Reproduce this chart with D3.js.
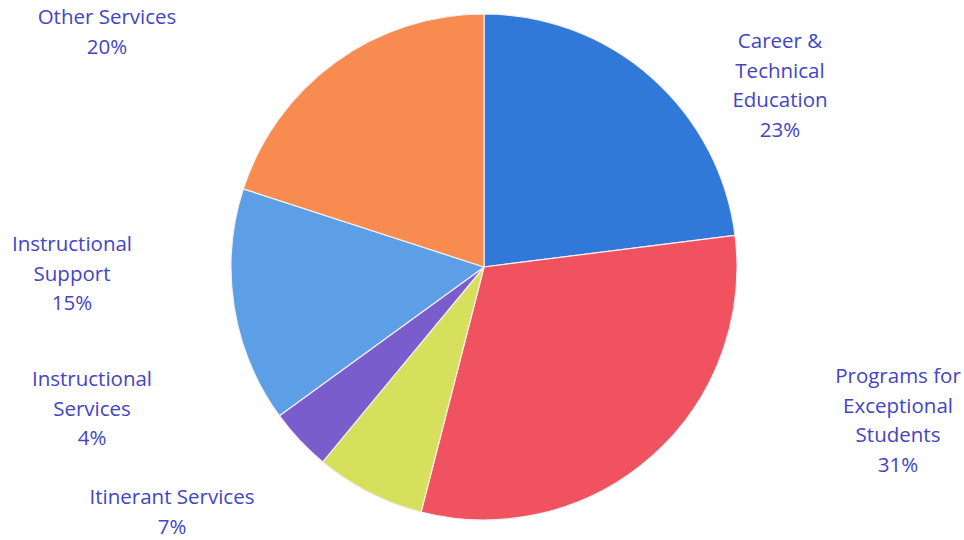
<!DOCTYPE html>
<html>
<head>
<meta charset="utf-8">
<script src="https://cdn.jsdelivr.net/npm/d3@7"></script>
<style>
  html, body { margin: 0; padding: 0; background: #ffffff; }
  svg { display: block; }
</style>
</head>
<body>
<svg id="chart" width="964" height="540"></svg>
<script>
// Budget share by program area, clockwise from 12 o'clock
const categories = [
  "Career & Technical Education",
  "Programs for Exceptional Students",
  "Itinerant Services",
  "Instructional Services",
  "Instructional Support",
  "Other Services"
];
const shares = [23, 31, 7, 4, 15, 20];
const labelLines = [
  ["Career &", "Technical", "Education"],
  ["Programs for", "Exceptional", "Students"],
  ["Itinerant Services"],
  ["Instructional", "Services"],
  ["Instructional", "Support"],
  ["Other Services"]
];
const sliceColors = ["#3079d8", "#f0525f", "#d6e05c", "#7b5ccc", "#5c9fe6", "#f88b4f"];

// Layout
const W = 964, H = 540;
const cx = 484, cy = 267, radius = 253;
const labelAnchors = [
  [780, 40], [898, 375], [172, 496], [92, 378], [72, 243], [107, 16]
];
const lineStep = 29.6;

const svg = d3.select("#chart");

const data = categories.map((c, i) => ({ name: c, value: shares[i], lines: labelLines[i], color: sliceColors[i] }));

const pie = d3.pie().value(d => d.value).sort(null);
const arc = d3.arc().innerRadius(0).outerRadius(radius);

const g = svg.append("g").attr("transform", `translate(${cx},${cy})`);
g.selectAll("path")
  .data(pie(data))
  .join("path")
  .attr("d", arc)
  .attr("fill", d => d.data.color)
  .attr("stroke", "#f4eef0")
  .attr("stroke-width", 1.2)
  .attr("stroke-linejoin", "round");

// Category labels with percentage on the final line
const labels = svg.append("g")
  .attr("font-family", "'Open Sans', sans-serif")
  .attr("font-size", 20.5)
  .attr("fill", "#4245c4")
  .attr("text-anchor", "middle");

data.forEach((d, i) => {
  const [lx, ly] = labelAnchors[i];
  const t = labels.append("text")
    .attr("x", lx)
    .attr("y", ly)
    .attr("dominant-baseline", "central");
  const all = d.lines.concat([d3.format("d")(d.value) + "%"]);
  all.forEach((line, k) => {
    t.append("tspan")
      .attr("x", lx)
      .attr("dy", k === 0 ? 0 : lineStep)
      .text(line);
  });
});
</script>
</body>
</html>
